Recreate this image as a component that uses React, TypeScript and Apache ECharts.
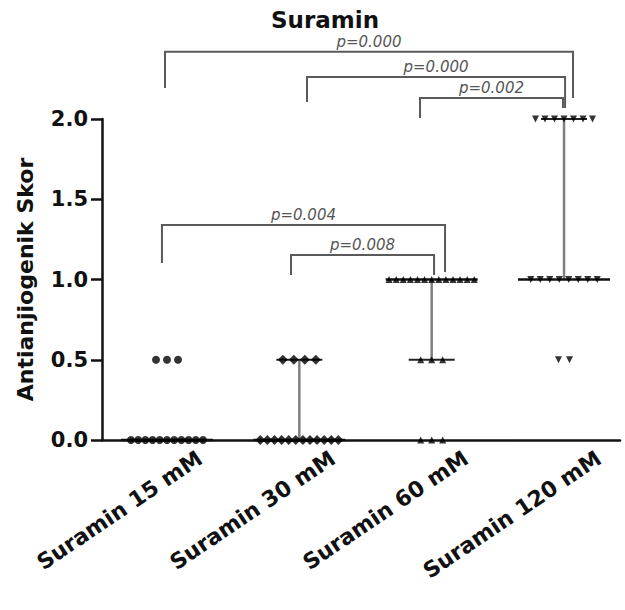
import React, { useEffect, useRef } from "react";
import * as echarts from "echarts";

const categories = ["Suramin 15 mM", "Suramin 30 mM", "Suramin 60 mM", "Suramin 120 mM"];

const scores15 = [0, 0, 0, 0, 0, 0, 0, 0, 0, 0, 0, 0.5, 0.5, 0.5];
const scores30 = [0, 0, 0, 0, 0, 0, 0, 0, 0, 0, 0, 0, 0.5, 0.5, 0.5, 0.5];
const scores60 = [0, 0, 0, 0.5, 0.5, 0.5, 1, 1, 1, 1, 1, 1, 1, 1, 1, 1, 1, 1, 1];
const scores120 = [0.5, 0.5, 1, 1, 1, 1, 1, 1, 1, 1, 2, 2, 2, 2, 2, 2, 2];
const groups = [scores15, scores30, scores60, scores120];

const medians = [0, 0, 1, 1];
const q1s = [0, 0, 0.5, 1];
const q3s = [0, 0.5, 1, 2];

const yTicks = [0, 0.5, 1.0, 1.5, 2.0];

// comparison brackets (x in group units, y in score units)
const bracketFrom = [0.985, 2.058, 2.912, 0.962, 1.937];
const bracketTo = [4.068, 4.008, 3.992, 3.101, 3.018];
const bracketY = [2.419, 2.262, 2.131, 1.34, 1.153];
const bracketLeftEnd = [2.193, 2.106, 2.006, 1.103, 1.028];
const bracketRightEnd = [2.131, 2.069, 2.069, 1.047, 1.028];
const pLabels = ["p=0.000", "p=0.000", "p=0.002", "p=0.004", "p=0.008"];

const symbols = ["circle", "diamond", "triangle", "triangle"];
const symbolRotates = [0, 0, 0, 180];
const symbolSizes = [8, 10, 7, 7];
const groupSpacingPx = [7.2, 7.1, 7.1, 9.5];

const PX_PER_UNIT = 132.33;
const FONT = "DejaVu Sans";

function swarm(values: number[], g: number) {
  const counts: Record<string, number> = {};
  values.forEach((v) => (counts[v] = (counts[v] || 0) + 1));
  const seen: Record<string, number> = {};
  return values.map((v) => {
    const n = counts[v];
    const i = seen[v] || 0;
    seen[v] = i + 1;
    const sp = (n <= 4 ? 11 : groupSpacingPx[g]) / PX_PER_UNIT;
    return [g + 1 + (i - (n - 1) / 2) * sp, v];
  });
}

export default function App() {
  const ref = useRef<HTMLDivElement>(null);
  useEffect(() => {
    document.body.style.margin = "0";
    const chart = echarts.init(ref.current!, null, { renderer: "svg" });
    const scatterSeries = groups.map((vals, g) => ({
      type: "scatter",
      xAxisIndex: 0,
      yAxisIndex: 0,
      data: swarm(vals, g),
      symbol: symbols[g],
      symbolRotate: symbolRotates[g],
      symbolSize: symbolSizes[g],
      itemStyle: { color: "#000" },
      z: 5,
      clip: false,
    }));
    const errData = medians.map((m, i) => [i + 1, m, q1s[i], q3s[i]]);
    const bracketData = bracketFrom.map((f, i) => [f, bracketTo[i], bracketY[i], bracketLeftEnd[i], bracketRightEnd[i], i]);
    chart.setOption({
      animation: false,
      title: {
        text: "Suramin",
        left: 266,
        top: 3,
        textStyle: { fontFamily: FONT, fontWeight: "bold", fontSize: 23, color: "#111" },
      },
      grid: [
        { left: 102, right: 5, top: 119, bottom: 170 },
        { left: 200, right: 26, top: 119, bottom: 170 },
      ],
      xAxis: [
        {
          type: "value",
          gridIndex: 0,
          min: 0.509,
          max: 4.423,
          axisLine: { show: true, lineStyle: { color: "#111", width: 2.5 } },
          axisTick: { show: false },
          axisLabel: { show: false },
          splitLine: { show: false },
        },
        {
          type: "category",
          gridIndex: 1,
          data: categories,
          boundaryGap: false,
          axisLine: { show: false },
          axisTick: { show: false },
          axisLabel: {
            rotate: 34,
            margin: 16,
            interval: 0,
            fontFamily: FONT,
            fontWeight: "bold",
            fontSize: 22,
            color: "#111",
          },
        },
      ],
      yAxis: [
        {
          type: "value",
          gridIndex: 0,
          min: 0,
          max: 2,
          interval: 0.5,
          name: "Antianjiogenik Skor",
          nameLocation: "middle",
          nameGap: 66,
          nameTextStyle: { fontFamily: FONT, fontWeight: "bold", fontSize: 22, color: "#111" },
          axisLine: { show: true, lineStyle: { color: "#111", width: 2.5 } },
          axisTick: { show: true, length: 11, lineStyle: { color: "#111", width: 2.5 } },
          axisLabel: {
            margin: 14,
            fontFamily: FONT,
            fontWeight: "bold",
            fontSize: 21,
            color: "#111",
            formatter: (v: number) => (yTicks.includes(v) ? v.toFixed(1) : ""),
          },
          splitLine: { show: false },
        },
        {
          type: "value",
          gridIndex: 1,
          show: false,
          min: 0,
          max: 2,
        },
      ],
      series: [
        {
          type: "custom",
          xAxisIndex: 0,
          yAxisIndex: 0,
          z: 3,
          data: errData,
          encode: { x: 0, y: [1, 2, 3] },
          renderItem: (params: any, api: any) => {
            const x = api.value(0);
            const m = api.value(1);
            const lo = api.value(2);
            const hi = api.value(3);
            const pm = api.coord([x, m]);
            const pl = api.coord([x, lo]);
            const ph = api.coord([x, hi]);
            const children: any[] = [];
            if (hi > lo) {
              children.push({
                type: "line",
                shape: { x1: pm[0], y1: pl[1], x2: pm[0], y2: ph[1] },
                style: { stroke: "#808080", lineWidth: 2.5 },
              });
            }
            if (lo < m) {
              children.push({
                type: "line",
                shape: { x1: pm[0] - 23, y1: pl[1], x2: pm[0] + 23, y2: pl[1] },
                style: { stroke: "#222", lineWidth: 2 },
              });
            }
            if (hi > m) {
              children.push({
                type: "line",
                shape: { x1: pm[0] - 23, y1: ph[1], x2: pm[0] + 23, y2: ph[1] },
                style: { stroke: "#222", lineWidth: 2 },
              });
            }
            children.push({
              type: "line",
              shape: { x1: pm[0] - 46, y1: pm[1], x2: pm[0] + 46, y2: pm[1] },
              style: { stroke: "#111", lineWidth: 2.5 },
            });
            return { type: "group", children };
          },
        },
        {
          type: "custom",
          xAxisIndex: 0,
          yAxisIndex: 0,
          z: 4,
          clip: false,
          data: bracketData,
          encode: { x: [0, 1], y: [2, 3, 4] },
          renderItem: (params: any, api: any) => {
            const f = api.value(0);
            const t = api.value(1);
            const y = api.value(2);
            const le = api.value(3);
            const re = api.value(4);
            const idx = api.value(5);
            const a = api.coord([f, le]);
            const b = api.coord([f, y]);
            const c = api.coord([t, y]);
            const d = api.coord([t, re]);
            return {
              type: "group",
              children: [
                {
                  type: "polyline",
                  shape: { points: [a, b, c, d] },
                  style: { stroke: "#5a5a5a", lineWidth: 2, fill: "none" },
                },
                {
                  type: "text",
                  style: {
                    text: pLabels[idx],
                    x: (b[0] + c[0]) / 2,
                    y: b[1] - 2,
                    align: "center",
                    verticalAlign: "bottom",
                    fontStyle: "italic",
                    fontFamily: FONT,
                    fontSize: 15,
                    fill: "#555",
                  },
                },
              ],
            };
          },
        },
        ...scatterSeries,
      ],
    });
    return () => chart.dispose();
  }, []);
  return <div ref={ref} style={{ width: 625, height: 610 }} />;
}
